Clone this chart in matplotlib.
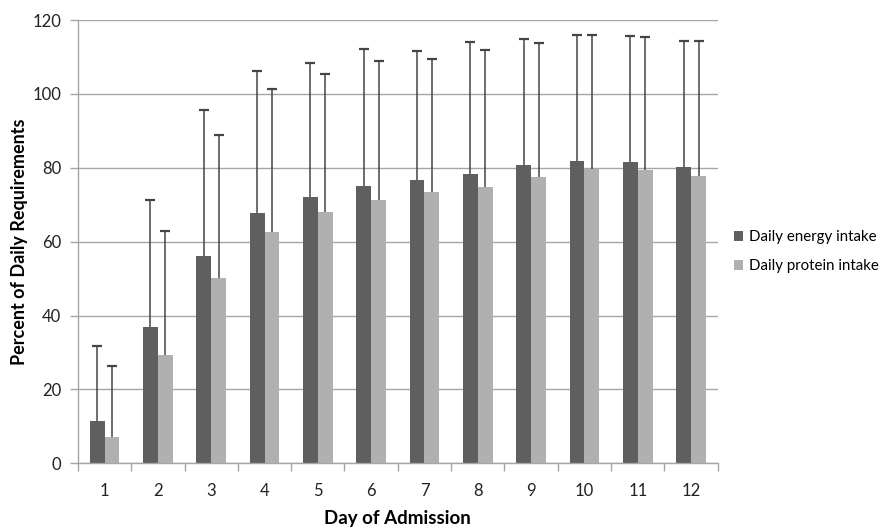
#!/usr/bin/env python3
"""Daily energy / protein intake by day of admission, with upper SD bars."""
import numpy as np
import matplotlib
matplotlib.use("Agg")
import matplotlib.pyplot as plt  # noqa: E402

plt.rcParams["font.family"] = ["Lato", "DejaVu Sans"]

days = [1, 2, 3, 4, 5, 6, 7, 8, 9, 10, 11, 12]
energy_mean = [11.4, 36.9, 56.2, 67.8, 72.2, 75.1, 76.7, 78.3, 80.7, 81.9, 81.7, 80.2]
energy_top = [31.8, 71.4, 95.7, 106.2, 108.4, 112.1, 111.7, 114.1, 114.9, 116.1, 115.8, 114.4]
protein_mean = [7.2, 29.3, 50.2, 62.7, 68.0, 71.4, 73.5, 74.9, 77.5, 79.8, 79.3, 77.8]
protein_top = [26.3, 63.0, 88.9, 101.4, 105.5, 108.9, 109.4, 112.0, 113.9, 116.1, 115.4, 114.4]
energy_sd = [t - m for t, m in zip(energy_top, energy_mean)]
protein_sd = [t - m for t, m in zip(protein_top, protein_mean)]

fig = plt.figure(figsize=(8.85, 5.3), dpi=100)
ax = fig.add_axes([0.088, 0.126, 0.723, 0.836])

x = np.arange(len(days))
w = 0.28
err_c = "#454545"
for off, mean, sd, col, lab in [
    (-w / 2, energy_mean, energy_sd, "#5f5f5f", "Daily energy intake"),
    (w / 2, protein_mean, protein_sd, "#b0b0b0", "Daily protein intake"),
]:
    xs = x + off
    ax.bar(xs, mean, width=w, color=col, label=lab, zorder=2)
    tops = np.array(mean) + np.array(sd)
    ax.vlines(xs, mean, tops, color=err_c, lw=1.1, zorder=3)
    ax.scatter(xs, tops, marker="_", s=60, color=err_c, linewidths=1.6, zorder=3)

ax.set_xlim(-0.5, len(days) - 0.5)
ax.set_ylim(0, 120)
ax.set_yticks(range(0, 121, 20))
ax.yaxis.grid(True, color="#a6a6a6", lw=1)
ax.set_axisbelow(True)
ax.set_xticks(x)
ax.set_xticklabels([str(d) for d in days])
ax.set_xticks(np.arange(-0.5, len(days), 1), minor=True)
ax.tick_params(axis="x", which="major", length=0, pad=14, labelsize=12,
               labelcolor="#222222")
ax.tick_params(axis="x", which="minor", length=6, color="#a6a6a6", width=1)
ax.tick_params(axis="y", length=6, color="#a6a6a6", width=1, labelsize=12,
               labelcolor="#222222", pad=6)

for s in ("top", "right"):
    ax.spines[s].set_visible(False)
for s in ("left", "bottom"):
    ax.spines[s].set_color("#a6a6a6")
    ax.spines[s].set_linewidth(1)

ax.set_xlabel("Day of Admission", fontweight="bold", fontsize=13.5, labelpad=8)
ax.set_ylabel("Percent of Daily Requirements", fontweight="bold", fontsize=13,
              labelpad=3)

ax.legend(loc="center left", bbox_to_anchor=(1.005, 0.477), frameon=False,
          fontsize=10.8, handlelength=0.6, handleheight=0.6, handletextpad=0.4,
          labelspacing=1.0)

fig.savefig("out.png", dpi=100)
